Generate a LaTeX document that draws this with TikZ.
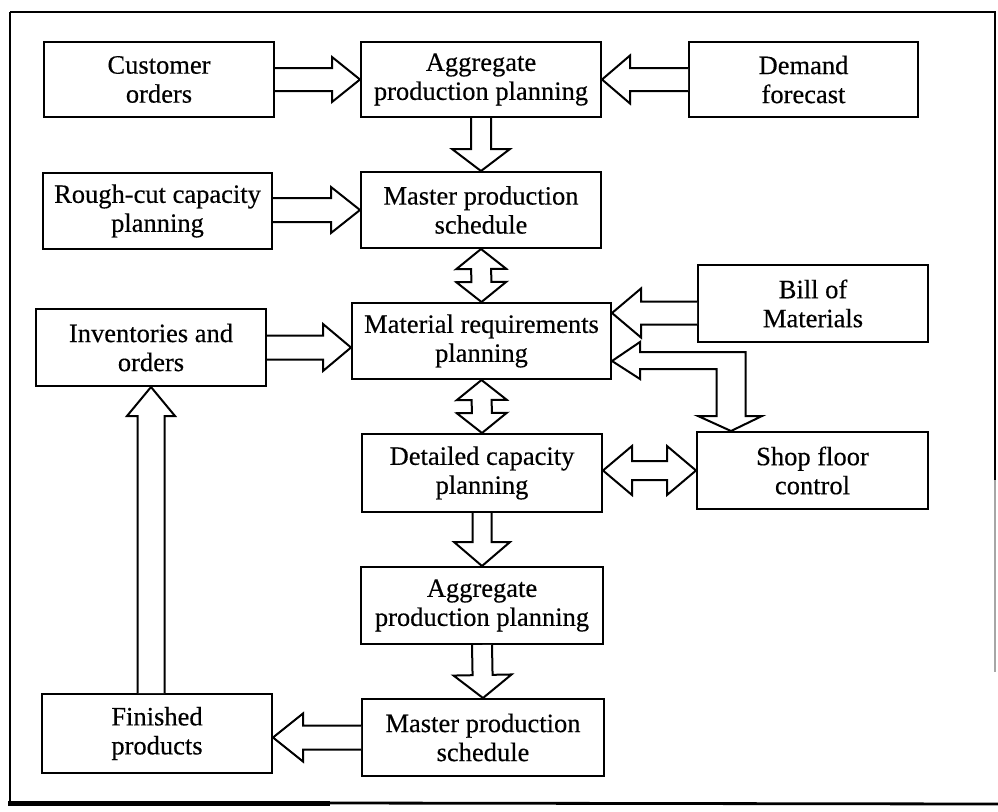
\documentclass[tikz,border=0pt]{standalone}
\usepackage{fontspec}
\setmainfont{Liberation Serif}[FakeBold=0.35]
\usetikzlibrary{calc}

% single block arrow: tail, tip, half shaft width, half head width, head length
\newcommand\blkarrow[5]{%
  \coordinate (bt) at (#1); \coordinate (bp) at (#2);
  \coordinate (bh) at ($(bp)!#5!(bt)$);
  \draw[blockline] ($(bt)!#3!90:(bp)$) -- ($(bh)!#3!90:(bp)$) -- ($(bh)!#4!90:(bp)$)
    -- (bp) -- ($(bh)!#4!-90:(bp)$) -- ($(bh)!#3!-90:(bp)$) -- ($(bt)!#3!-90:(bp)$);}
% double block arrow: end, end, half shaft width, half head width, head length
\newcommand\dblarrow[5]{%
  \coordinate (ba) at (#1); \coordinate (bb) at (#2);
  \coordinate (bh1) at ($(ba)!#5!(bb)$); \coordinate (bh2) at ($(bb)!#5!(ba)$);
  \draw[blockline] (ba) -- ($(bh1)!#4!90:(bb)$) -- ($(bh1)!#3!90:(bb)$)
    -- ($(bh2)!#3!90:(bb)$) -- ($(bh2)!#4!90:(bb)$) -- (bb)
    -- ($(bh2)!#4!-90:(bb)$) -- ($(bh2)!#3!-90:(bb)$)
    -- ($(bh1)!#3!-90:(bb)$) -- ($(bh1)!#4!-90:(bb)$) -- cycle;}

\begin{document}
\begin{tikzpicture}[x=1pt,y=-1pt,
  box/.style={draw, line width=2pt, fill=white, inner sep=0pt, align=center,
    font=\fontsize{26.5}{29}\selectfont},
  blockline/.style={draw, line width=2pt, fill=white, line join=miter},
  frameline/.style={line width=2.4pt}]
\useasboundingbox (0,0) rectangle (998,811);
\fill[white] (0,0) rectangle (998,811);

% outer frame
\draw[frameline] (10,12) -- (996,12);
\draw[frameline] (10,12) -- (10,806);
\draw[line width=2.8pt] (995,12) -- (995,480);
\draw[line width=1.2pt, black!35] (995,480) -- (995,672);
\draw[line width=5pt] (8,803) -- (330,803);
\draw[line width=2.8pt] (330,803) -- (998,804);

% boxes
\node[box, minimum width=230, minimum height=75] (co)   at (159,79.5)   {Customer\\orders};
\node[box, minimum width=240, minimum height=75] (agg1) at (481,79.5)   {Aggregate\\production planning};
\node[box, minimum width=229, minimum height=75] (df)   at (803.5,79.5) {Demand\\forecast};
\node[box, minimum width=229, minimum height=76] (rc)   at (157.5,211)  {Rough-cut capacity\\planning};
\node[box, minimum width=240, minimum height=76] (mps1) at (481,210)    {Master production\\schedule};
\node[box, minimum width=230, minimum height=77] (inv)  at (151,347.5)  {Inventories and\\orders};
\node[box, minimum width=259, minimum height=76] (mrp)  at (481.5,341)  {Material requirements\\planning};
\node[box, minimum width=230, minimum height=77] (bom)  at (813,303.5)  {Bill of\\Materials};
\node[box, minimum width=240, minimum height=78] (dcp)  at (482,473)    {Detailed capacity\\planning};
\node[box, minimum width=231, minimum height=77] (sfc)  at (812.5,470.5){Shop floor\\control};
\node[box, minimum width=242, minimum height=77] (agg2) at (482,605.5)  {Aggregate\\production planning};
\node[box, minimum width=242, minimum height=77] (mps2) at (483,737.5)  {Master production\\schedule};
\node[box, minimum width=230, minimum height=79] (fp)   at (157,733.5)  {Finished\\products};

% connector end points
\coordinate (bomtip) at ($(mrp.north east)+(0,11)$);
\coordinate (loopa)  at ($(mrp.south east)+(0,-19)$);
\coordinate (loopb)  at ($(sfc.north west)+(35,0)$);

% horizontal block arrows
\blkarrow{co.east}{agg1.west}{11.5pt}{22.5pt}{28pt}
\blkarrow{df.west}{agg1.east}{11.5pt}{24pt}{28pt}
\blkarrow{rc.east |- mps1.west}{mps1.west}{12pt}{23pt}{29pt}
\blkarrow{inv.east}{inv.east -| mrp.west}{12pt}{23.5pt}{28pt}
\blkarrow{bom.west |- bomtip}{bomtip}{11.5pt}{24.5pt}{29pt}
\blkarrow{mps2.west}{mps2.west -| fp.east}{12pt}{24pt}{30pt}
\dblarrow{dcp.east |- sfc.west}{sfc.west}{9.5pt}{24.5pt}{29pt}

% vertical block arrows
\blkarrow{agg1.south}{mps1.north}{10pt}{29pt}{22pt}
\dblarrow{mps1.south}{mrp.north}{10pt}{25pt}{20pt}
\dblarrow{mrp.south}{dcp.north}{10pt}{25pt}{20pt}
\blkarrow{dcp.south}{agg2.north}{9.5pt}{28pt}{24pt}
\blkarrow{agg2.south}{mps2.north}{10pt}{29pt}{23pt}
\blkarrow{inv.south |- fp.north}{inv.south}{13.5pt}{24pt}{29pt}

% bent two-way arrow between requirements planning and shop floor
\draw[blockline] let \p1=(loopa), \p2=(loopb) in
  (\p1) -- (\x1+28pt,\y1+19pt) -- (\x1+28pt,\y1+9pt) -- (\x2+14.5pt,\y1+9pt)
  -- (\x2+14.5pt,\y2+15pt) -- (\x2+31pt,\y2+15pt) -- (\p2)
  -- (\x2-33pt,\y2+15pt) -- (\x2-14.5pt,\y2+15pt) -- (\x2-14.5pt,\y1-8pt)
  -- (\x1+28pt,\y1-8pt) -- (\x1+28pt,\y1-18pt) -- cycle;
\end{tikzpicture}
\end{document}
